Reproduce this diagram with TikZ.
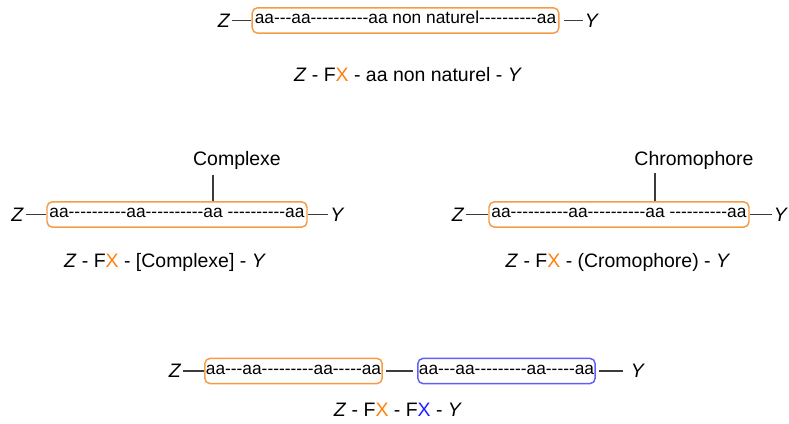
\documentclass[tikz,border=0pt]{standalone}
\usepackage{fontspec}
\setmainfont{Liberation Sans}
\usepackage{tikz}

\definecolor{fxorange}{RGB}{245,155,70}
\definecolor{fxblue}{RGB}{95,95,250}
\definecolor{xorange}{RGB}{255,128,10}
\definecolor{xblue}{RGB}{30,30,255}
\definecolor{bondgray}{RGB}{60,60,60}

\newcommand{\lblfont}{\fontsize{14.6}{17}\selectfont}
\newcommand{\seqfont}{\fontsize{13}{15}\selectfont}
% a run of plain hyphens (no -- or --- ligatures)
\newcommand{\hy}[1]{\foreach \i in {1,...,#1}{-\kern0pt}}

\tikzset{
  chain/.style={draw=fxorange,rounded corners=4pt,line width=1.1pt,
    minimum height=19pt,inner xsep=0pt,text height=0.75em,text depth=0.25em},
  fxtwo/.style={chain,draw=fxblue},
}

\begin{document}
\begin{tikzpicture}[x=0.75pt,y=-0.75pt]
  \useasboundingbox (0,0) rectangle (789,424);

  \begin{scope}[every node/.style={font=\lblfont,inner xsep=1.5pt}]
    % ends of the chains
    \node (Z1) at (224,20.5) {\textit{Z}};
    \node (Y1) at (592,20.5) {\textit{Y}};
    \node (Z2) at (17.5,214.5) {\textit{Z}};
    \node (Y2) at (337.5,214.5) {\textit{Y}};
    \node (Z3) at (458,214.5) {\textit{Z}};
    \node (Y3) at (781,214.5) {\textit{Y}};
    \node (Z4) at (175,371) {\textit{Z}};
    \node (Y4) at (638,371) {\textit{Y}};
    % side groups
    \node (cplx) at (237,160) {Complexe};
    \node (chro) at (694,160) {Chromophore};
    % formulas
    \node (f1) at (408,75) {\textit{Z} - F\textcolor{xorange}{X} - aa non naturel - \textit{Y}};
    \node (f2) at (165,262) {\textit{Z} - F\textcolor{xorange}{X} - [Complexe] - \textit{Y}};
    \node (f3) at (618,262) {\textit{Z} - F\textcolor{xorange}{X} - (Cromophore) - \textit{Y}};
    \node (f4) at (398,410) {\textit{Z} - F\textcolor{xorange}{X} - F\textcolor{xblue}{X} - \textit{Y}};
  \end{scope}

  \begin{scope}[every node/.style={font=\seqfont}]
    \node[chain,minimum width=230pt] (C1) at (405.5,20.5) {aa\hy{3}aa\hy{10}aa non naturel\hy{10}aa};
    \node[chain,minimum width=195pt] (C2) at (177,214.5) {aa\hy{10}aa\hy{10}aa \hy{10}aa};
    \node[chain,minimum width=195pt] (C3) at (619,214.5) {aa\hy{10}aa\hy{10}aa \hy{10}aa};
    \node[chain,minimum width=133pt] (C4) at (293.5,371) {aa\hy{3}aa\hy{9}aa\hy{5}aa};
    \node[fxtwo,minimum width=133pt] (C5) at (506.5,371) {aa\hy{3}aa\hy{9}aa\hy{5}aa};
  \end{scope}

  \coordinate (t2) at (213,175);
  \coordinate (t3) at (655,173);

  \begin{scope}[every edge/.style={draw=bondgray,line width=0.8pt}]
    \path (Z1) edge (C1);
    \path (C1) edge [shorten <=3pt] (Y1);
    \path (Z2) edge (C2);
    \path (C2) edge (Y2);
    \path (t2) edge (t2 |- C2.north);
    \path (Z3) edge (C3);
    \path (C3) edge (Y3);
    \path (t3) edge (t3 |- C3.north);
    \path (Z4) edge (C4);
    \path (C4) edge [shorten <=2pt,shorten >=3pt] (C5);
    \path (C5) edge [shorten <=2pt,shorten >=4.5pt] (Y4);
  \end{scope}
\end{tikzpicture}
\end{document}
